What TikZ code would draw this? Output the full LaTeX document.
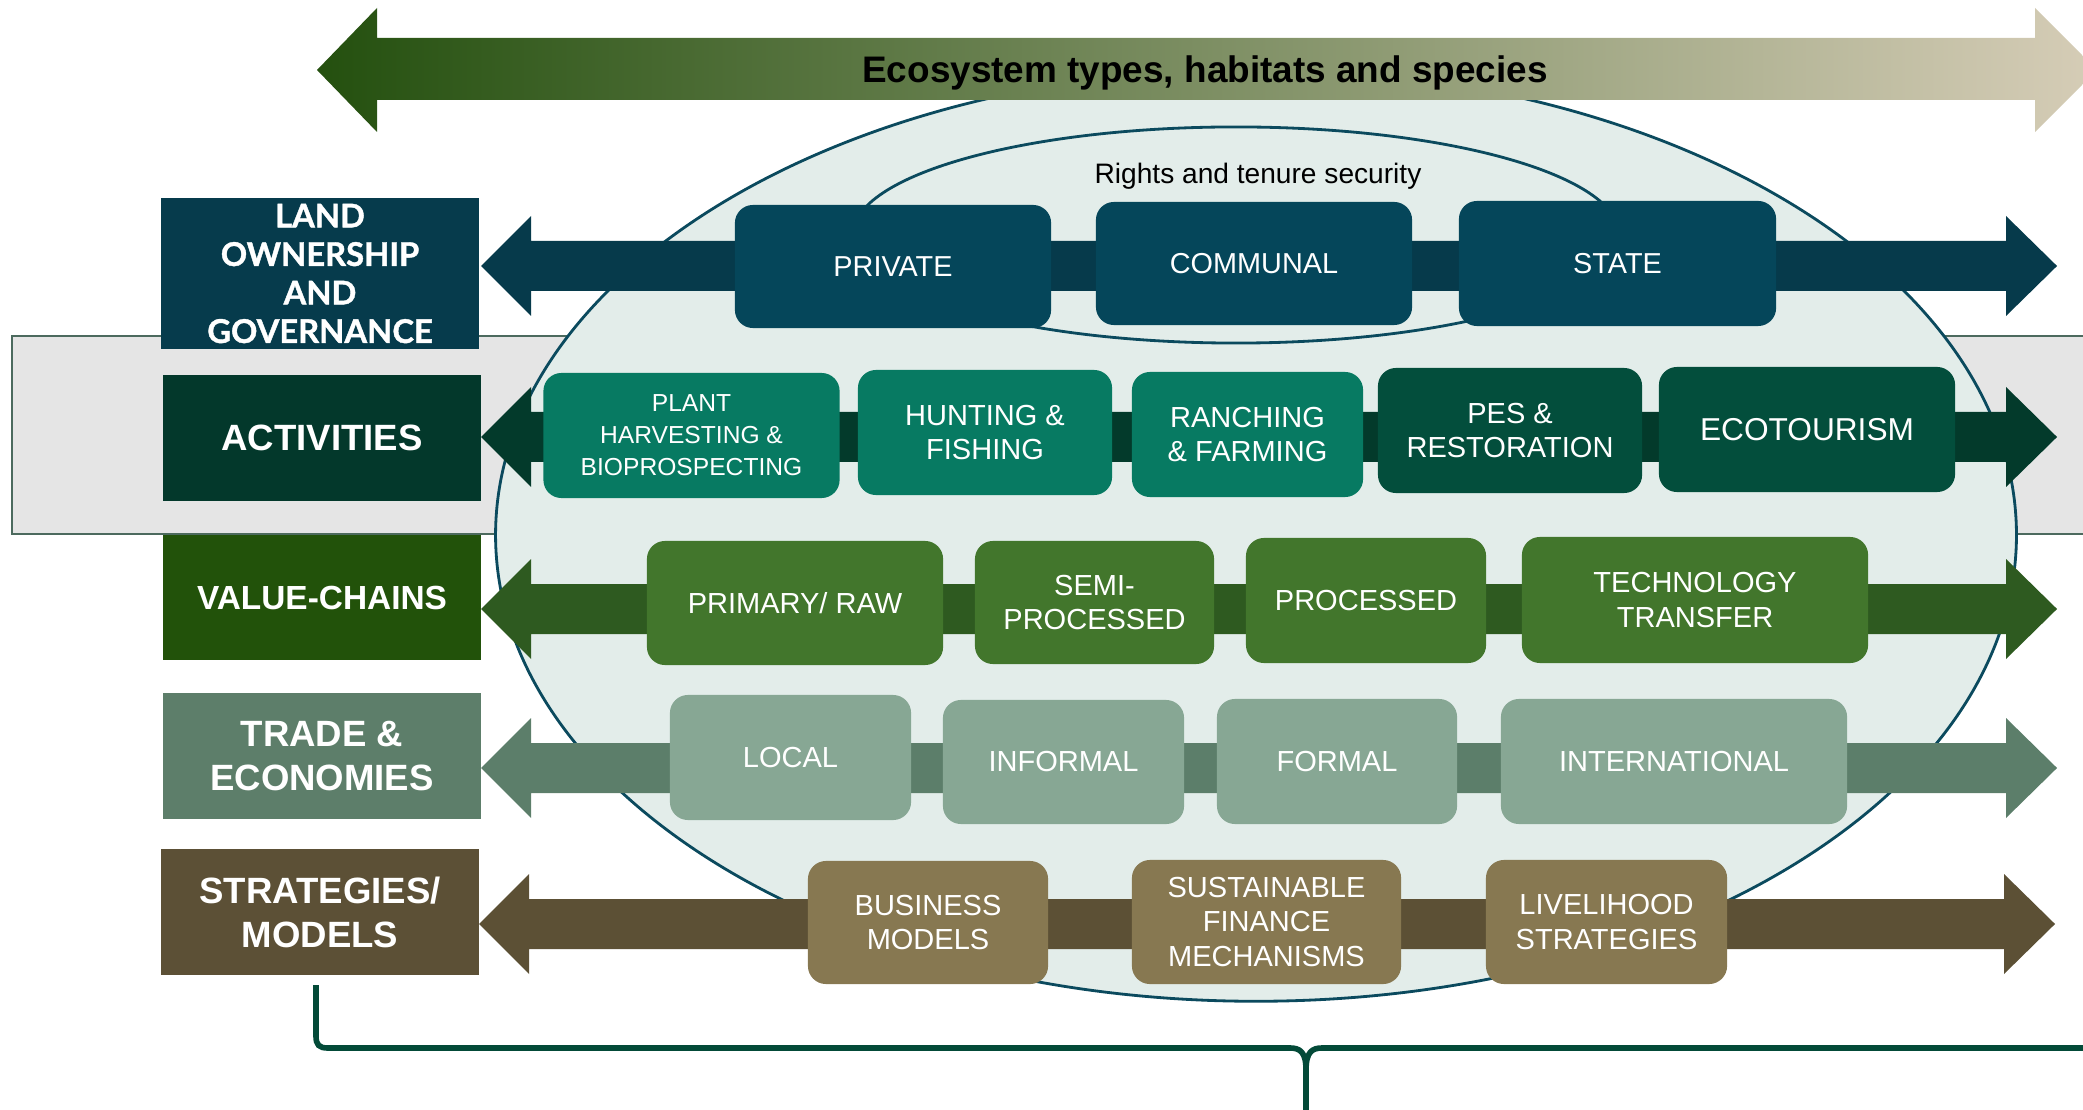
\documentclass[tikz,border=0pt]{standalone}
\usepackage{fontspec}
\setmainfont{Liberation Sans}
\newfontfamily\landfont{Lato}[BoldFeatures={FakeBold=1.2}]
\definecolor{ellfill}{HTML}{E3EDEA}
\definecolor{ellline}{HTML}{0B4A5E}
\definecolor{band}{HTML}{E5E5E5}
\definecolor{bandline}{HTML}{4C6A5E}
\definecolor{gA}{HTML}{24500F}
\definecolor{gB}{HTML}{9C9E84}
\definecolor{gC}{HTML}{D6CDB7}
\definecolor{lA}{HTML}{063B4C}
\definecolor{lB}{HTML}{03382B}
\definecolor{lC}{HTML}{22520A}
\definecolor{lD}{HTML}{5D7E6A}
\definecolor{lE}{HTML}{5C5036}
\definecolor{aA}{HTML}{063A4B}
\definecolor{aB}{HTML}{033A2B}
\definecolor{aC}{HTML}{2E5A20}
\definecolor{aD}{HTML}{5C7E6A}
\definecolor{aE}{HTML}{5C5035}
\definecolor{bA}{HTML}{05465A}
\definecolor{bBt}{HTML}{077A62}
\definecolor{bBd}{HTML}{034E3C}
\definecolor{bC}{HTML}{42762C}
\definecolor{bD}{HTML}{87A794}
\definecolor{bE}{HTML}{877851}
\definecolor{bracecol}{HTML}{034A38}
\newcommand\rowarrow[2]{\fill[#2] (#1) -- ++(50,-50) -- ++(0,25) -- ++(1475,0) -- ++(0,-25) -- ++(51,50) -- ++(-51,50) -- ++(0,-25) -- ++(-1475,0) -- ++(0,25) -- cycle;}
\begin{document}
\begin{tikzpicture}[x=0.01cm, y=-0.01cm,
  lbl/.style={rectangle, inner sep=0pt, text=white, align=center, minimum width=3.18cm, font=\bfseries\fontsize{10.4}{12.5}\selectfont},
  ibox/.style={rectangle, rounded corners=0.18cm, inner sep=0pt, text=white, align=center, font=\fontsize{8.25}{9.8}\selectfont},
  bracestyle/.style={draw=bracecol, line width=1.6pt}]
\useasboundingbox (0,0) rectangle (2083,1110);
\clip (0,0) rectangle (2083,1110);
% grey band
\draw[fill=band, draw=bandline, line width=0.5pt] (12,336) rectangle (2120,534);
% big ellipse
\draw[fill=ellfill, draw=ellline, line width=0.8pt] (1256,535) ellipse [x radius=7.60cm, y radius=4.66cm];
% top gradient arrow
\shade[left color=gA, middle color=gB, right color=gC] (317,70) -- (377,8) -- (377,38) -- (2035,38) -- (2035,8) -- (2097,70) -- (2035,132) -- (2035,100) -- (377,100) -- (377,132) -- cycle;
\node[font=\bfseries\fontsize{10.5}{12}\selectfont] (ecotitle) at (1205,73) {Ecosystem types, habitats and species};
% inner ellipse
\draw[draw=ellline, line width=0.8pt] (1236,235) ellipse [x radius=3.83cm, y radius=1.08cm];
\node[font=\fontsize{8}{9.6}\selectfont] (rights) at (1258,176) {Rights and tenure security};
% left labels
\node[lbl, fill=lA, minimum height=1.51cm, font=\landfont\bfseries\fontsize{9.3}{10.95}\selectfont] (land) at (320,273.5) {LAND\\OWNERSHIP\\AND\\GOVERNANCE};
\node[lbl, fill=lB, minimum height=1.26cm] (act) at (322,438) {ACTIVITIES};
\node[lbl, fill=lC, minimum height=1.25cm, font=\bfseries\fontsize{9.5}{11.5}\selectfont] (val) at (322,597.5) {VALUE-CHAINS};
\node[lbl, fill=lD, minimum height=1.26cm] (trade) at (322,756) {TRADE \&\\ECONOMIES};
\node[lbl, fill=lE, minimum height=1.26cm] (strat) at (320,912) {STRATEGIES/\\MODELS};
% row arrows
\coordinate (tipA) at (481,266);
\coordinate (tipB) at (481,437);
\coordinate (tipC) at (481,609);
\coordinate (tipD) at (481,768);
\coordinate (tipE) at (479,924);
\rowarrow{tipA}{aA}
\rowarrow{tipB}{aB}
\rowarrow{tipC}{aC}
\rowarrow{tipD}{aD}
\rowarrow{tipE}{aE}
% row 1
\node[ibox, fill=bA, minimum width=3.16cm, minimum height=1.23cm, font=\fontsize{8.2}{9.8}\selectfont] (private) at (893,266.5) {PRIVATE};
\node[ibox, fill=bA, minimum width=3.16cm, minimum height=1.23cm, font=\fontsize{8.2}{9.8}\selectfont] (communal) at (1254,263.5) {COMMUNAL};
\node[ibox, fill=bA, minimum width=3.17cm, minimum height=1.25cm, font=\fontsize{8.2}{9.8}\selectfont] (state) at (1617.5,263.5) {STATE};
% row 2
\node[ibox, fill=bBt, minimum width=2.96cm, minimum height=1.25cm, font=\fontsize{7}{9.1}\selectfont] (plant) at (691.5,435.5) {PLANT\\HARVESTING \&\\BIOPROSPECTING};
\node[ibox, fill=bBt, minimum width=2.54cm, minimum height=1.25cm] (hunting) at (985,432.5) {HUNTING \&\\FISHING};
\node[ibox, fill=bBt, minimum width=2.31cm, minimum height=1.25cm] (ranching) at (1247.5,434.5) {RANCHING\\\& FARMING};
\node[ibox, fill=bBd, minimum width=2.64cm, minimum height=1.25cm] (pes) at (1510,430.5) {PES \&\\RESTORATION};
\node[ibox, fill=bBd, minimum width=2.96cm, minimum height=1.25cm, font=\fontsize{9}{10.5}\selectfont] (eco) at (1807,429.5) {ECOTOURISM};
% row 3
\node[ibox, fill=bC, minimum width=2.96cm, minimum height=1.24cm] (primary) at (795,603) {PRIMARY/ RAW};
\node[ibox, fill=bC, minimum width=2.39cm, minimum height=1.23cm] (semi) at (1094.5,602.5) {SEMI-\\PROCESSED};
\node[ibox, fill=bC, minimum width=2.40cm, minimum height=1.25cm] (processed) at (1366,600.5) {PROCESSED};
\node[ibox, fill=bC, minimum width=3.46cm, minimum height=1.26cm] (tech) at (1695,600) {TECHNOLOGY\\TRANSFER};
% row 4
\node[ibox, fill=bD, minimum width=2.41cm, minimum height=1.25cm] (local) at (790.5,757.5) {LOCAL};
\node[ibox, fill=bD, minimum width=2.41cm, minimum height=1.24cm] (informal) at (1063.5,762) {INFORMAL};
\node[ibox, fill=bD, minimum width=2.40cm, minimum height=1.25cm] (formal) at (1337,761.5) {FORMAL};
\node[ibox, fill=bD, minimum width=3.46cm, minimum height=1.25cm] (intl) at (1674,761.5) {INTERNATIONAL};
% row 5
\node[ibox, fill=bE, minimum width=2.40cm, minimum height=1.23cm] (business) at (928,922.5) {BUSINESS\\MODELS};
\node[ibox, fill=bE, minimum width=2.69cm, minimum height=1.24cm] (finance) at (1266.5,922) {SUSTAINABLE\\FINANCE\\MECHANISMS};
\node[ibox, fill=bE, minimum width=2.41cm, minimum height=1.24cm] (livelihood) at (1606.5,922) {LIVELIHOOD\\STRATEGIES};
% brace
\draw[bracestyle] (316,985) -- (316,1036) .. controls (316,1045) and (319,1048) .. (328,1048) -- (1290,1048) .. controls (1300,1048) and (1306,1052) .. (1306,1070) -- (1306,1115);
\draw[bracestyle] (1306,1070) .. controls (1306,1052) and (1312,1048) .. (1322,1048) -- (2120,1048);
\end{tikzpicture}
\end{document}
